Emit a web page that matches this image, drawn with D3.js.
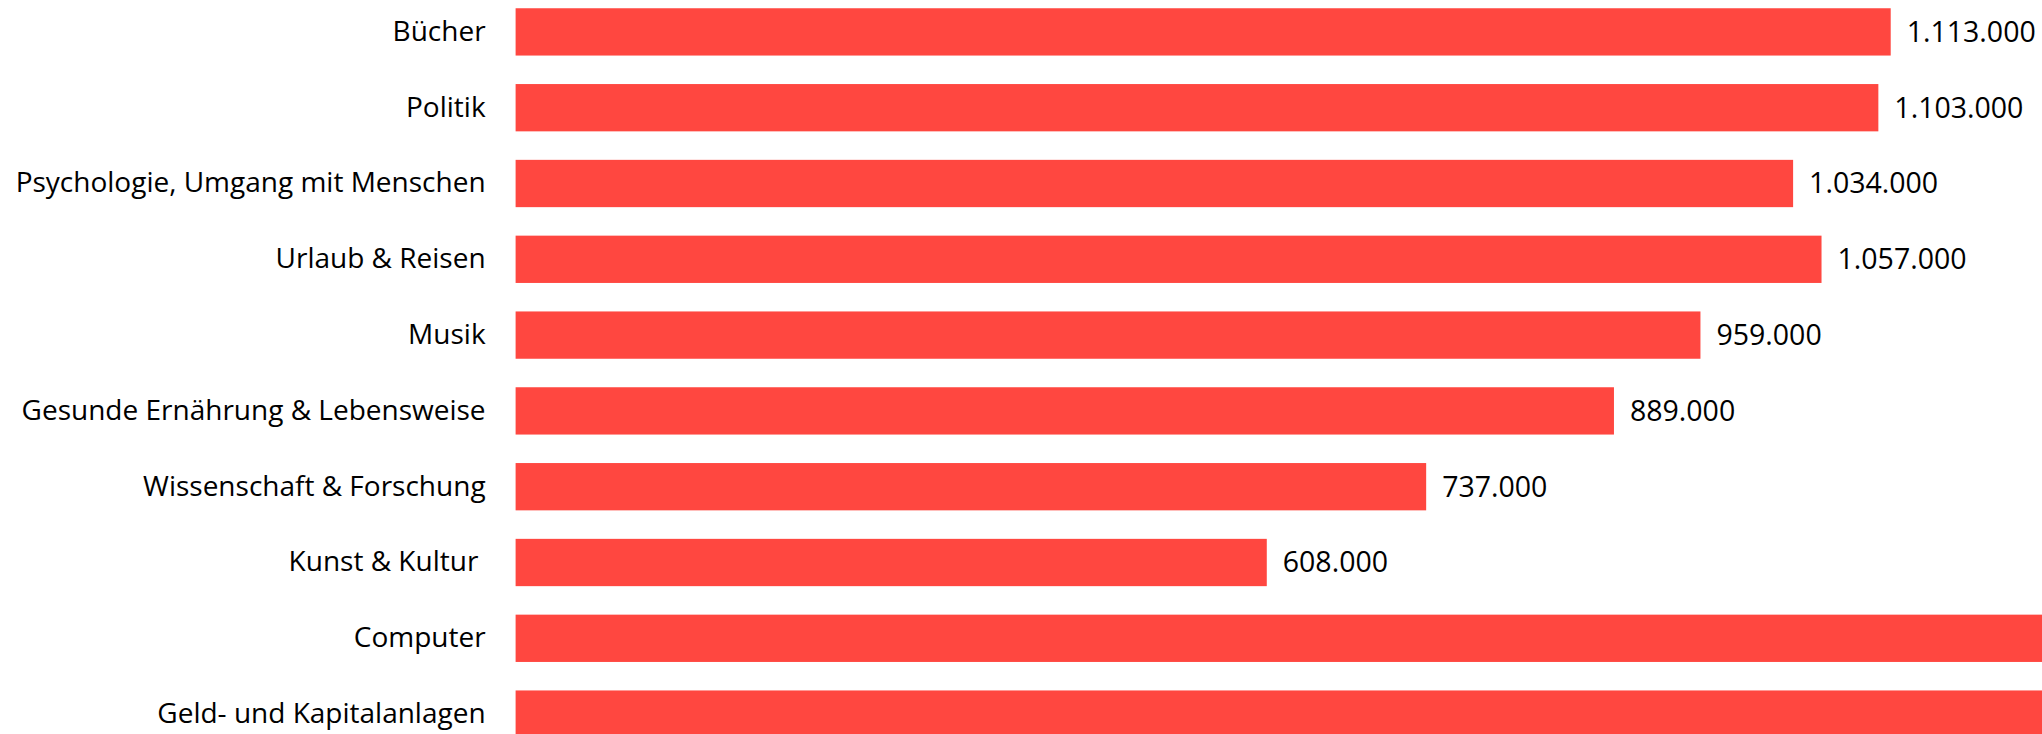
<!DOCTYPE html>
<html>
<head>
<meta charset="utf-8">
<script src="https://cdn.jsdelivr.net/npm/d3@7"></script>
<style>
  html, body { margin: 0; padding: 0; background: #ffffff; overflow: hidden; }
  svg { display: block; }
  text { font-variant-ligatures: none; white-space: pre; }
</style>
</head>
<body>
<svg id="chart" width="2042" height="734"></svg>
<script>
// Data (the last two bars run off the right edge)
const categories = [
  "Bücher",
  "Politik",
  "Psychologie, Umgang mit Menschen",
  "Urlaub & Reisen",
  "Musik",
  "Gesunde Ernährung & Lebensweise",
  "Wissenschaft & Forschung",
  "Kunst & Kultur ",
  "Computer",
  "Geld- und Kapitalanlagen"
];
const values = [1113000, 1103000, 1034000, 1057000, 959000, 889000, 737000, 608000, 1420000, 1480000];

const W = 2042, H = 734;
const svg = d3.select("#chart");

const x = d3.scaleLinear()
  .domain([0, 1500000])
  .range([515.6, 515.6 + 1235.5 * 1.5]);

const y = d3.scaleBand()
  .domain(categories)
  .range([-6, 752])
  .paddingInner(0.376)
  .paddingOuter(0.188);

const de = d3.formatLocale({ decimal: ",", thousands: ".", grouping: [3], currency: ["", " €"] });
const fmt = de.format(",d");

const FONT = "'Open Sans', Lato, sans-serif";
const data = categories.map((c, i) => ({ c, v: values[i] }));

svg.append("g").selectAll("rect")
  .data(data)
  .join("rect")
  .attr("x", x(0))
  .attr("y", d => y(d.c))
  .attr("width", d => x(d.v) - x(0))
  .attr("height", y.bandwidth())
  .attr("fill", "#ff4740");

// category axis (no line / ticks)
const axis = d3.axisLeft(y).tickSize(0).tickPadding(30);
const ag = svg.append("g")
  .attr("transform", `translate(${x(0)},0)`)
  .call(axis);
ag.select(".domain").remove();
ag.selectAll("text")
  .attr("font-family", FONT)
  .attr("font-size", 28)
  .attr("fill", "#000");

// value labels (those beyond the right edge are out of the picture, as in the reference)
svg.append("g").selectAll("text")
  .data(data.filter(d => x(d.v) + 16 < W))
  .join("text")
  .attr("x", d => x(d.v) + 16)
  .attr("y", d => y(d.c) + y.bandwidth() / 2)
  .attr("dy", "0.35em")
  .attr("font-family", FONT)
  .attr("font-size", 28.5)
  .attr("fill", "#000")
  .text(d => fmt(d.v));
</script>
</body>
</html>
